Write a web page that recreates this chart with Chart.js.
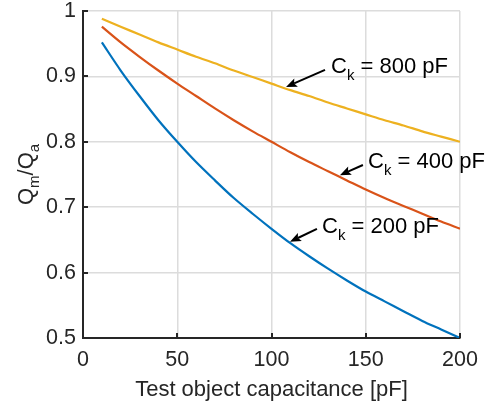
<!DOCTYPE html>
<html>
<head>
<meta charset="utf-8">
<script src="https://cdn.jsdelivr.net/npm/chart.js@4"></script>
<style>
html,body{margin:0;padding:0;background:#fff;}
canvas{display:block;}
</style>
</head>
<body>
<canvas id="c" width="491" height="405"></canvas>
<script>
// ---- data ----
const xValues = [10,20,30,40,50,60,70,80,90,100,110,120,130,140,150,160,170,180,190,200];
const ck200 = [0.952,0.909,0.870,0.833,0.800,0.769,0.741,0.714,0.690,0.667,0.645,0.625,0.606,0.588,0.571,0.556,0.541,0.526,0.513,0.500];
const ck400 = [0.976,0.952,0.930,0.909,0.889,0.870,0.851,0.833,0.816,0.800,0.784,0.769,0.755,0.741,0.727,0.714,0.702,0.690,0.678,0.667];
const ck800 = [0.988,0.976,0.964,0.952,0.941,0.930,0.920,0.909,0.899,0.889,0.879,0.870,0.860,0.851,0.842,0.833,0.825,0.816,0.808,0.800];
const seriesNames = ["C_k = 200 pF","C_k = 400 pF","C_k = 800 pF"];
const xTickLabels = ["0","50","100","150","200"];
const yTickLabels = ["0.5","0.6","0.7","0.8","0.9","1"];
const xTitle = "Test object capacitance [pF]";
// annotation anchors in data units: arrow tip, arrow tail, text start
const annTipX  = [109.8, 136.3, 107.7];
const annTipY  = [0.647, 0.749, 0.8838];
const annTailX = [124.1, 148.5, 128.4];
const annTailY = [0.667, 0.7645, 0.910];
const annTextX = [126.8, 151.2, 131.6];
const annTextY = [0.661, 0.760, 0.905];
const annMain = ["C","C","C"];
const annSub  = ["k","k","k"];
const annRest = [" = 200 pF"," = 400 pF"," = 800 pF"];

const colors = ["#0072BD","#D95319","#EDB120"];
const textColor = "#262626";
const FONT = "'Liberation Sans', Arial, Helvetica, sans-serif";

function pts(ys){ return xValues.map((x,i)=>({x:x,y:ys[i]})); }

const decor = {
  id:'decor',
  afterDraw(chart){
    const ctx = chart.ctx, xs = chart.scales.x, ys = chart.scales.y, a = chart.chartArea;
    ctx.save();
    // inward ticks
    ctx.strokeStyle = textColor; ctx.lineWidth = 2;
    ctx.beginPath();
    xs.ticks.forEach(t=>{ const p = Math.round(xs.getPixelForValue(t.value)); ctx.moveTo(p,a.bottom); ctx.lineTo(p,a.bottom-5); });
    ys.ticks.forEach(t=>{ const p = Math.round(ys.getPixelForValue(t.value)); ctx.moveTo(a.left,p); ctx.lineTo(a.left+5,p); });
    ctx.stroke();
    // x title
    ctx.fillStyle = textColor;
    ctx.font = "22px " + FONT;
    ctx.textAlign = "center"; ctx.textBaseline = "alphabetic";
    ctx.fillText(xTitle, (a.left+a.right)/2, 396);
    // y title Q_m/Q_a
    ctx.save();
    ctx.translate(33, (a.top+a.bottom)/2);
    ctx.rotate(-Math.PI/2);
    const big = "22px " + FONT, small = "15px " + FONT;
    const parts = [["Q",big,0],["m",small,6],["/Q",big,0],["a",small,6]];
    let w = 0; parts.forEach(p=>{ ctx.font=p[1]; w += ctx.measureText(p[0]).width; });
    let cx = -w/2; ctx.textAlign = "left";
    parts.forEach(p=>{ ctx.font=p[1]; ctx.fillText(p[0], cx, p[2]); cx += ctx.measureText(p[0]).width; });
    ctx.restore();
    // annotations
    for(let i=0;i<annTipX.length;i++){
      const tx = xs.getPixelForValue(annTipX[i]), ty = ys.getPixelForValue(annTipY[i]);
      const sx = xs.getPixelForValue(annTailX[i]), sy = ys.getPixelForValue(annTailY[i]);
      const ang = Math.atan2(ty-sy, tx-sx);
      const hl = 11, hw = 4.5;
      const bx = tx - Math.cos(ang)*hl*0.8, by = ty - Math.sin(ang)*hl*0.8;
      ctx.strokeStyle = "#000"; ctx.fillStyle = "#000"; ctx.lineWidth = 2;
      ctx.beginPath(); ctx.moveTo(sx,sy); ctx.lineTo(bx,by); ctx.stroke();
      ctx.beginPath();
      ctx.moveTo(tx,ty);
      ctx.lineTo(tx - Math.cos(ang)*hl - Math.sin(ang)*hw, ty - Math.sin(ang)*hl + Math.cos(ang)*hw);
      ctx.lineTo(bx, by);
      ctx.lineTo(tx - Math.cos(ang)*hl + Math.sin(ang)*hw, ty - Math.sin(ang)*hl - Math.cos(ang)*hw);
      ctx.closePath(); ctx.fill();
      // text
      let px = xs.getPixelForValue(annTextX[i]); const py = ys.getPixelForValue(annTextY[i]);
      ctx.fillStyle = "#000";
      ctx.textAlign = "left"; ctx.textBaseline = "alphabetic";
      ctx.font = big; ctx.fillText(annMain[i], px, py); px += ctx.measureText(annMain[i]).width;
      ctx.font = small; ctx.fillText(annSub[i], px, py+7); px += ctx.measureText(annSub[i]).width;
      ctx.font = big; ctx.fillText(annRest[i], px, py);
    }
    ctx.restore();
  }
};

new Chart(document.getElementById('c'), {
  type:'line',
  data:{
    datasets:[
      {label:seriesNames[0], data:pts(ck200), borderColor:colors[0], borderWidth:2.2, pointRadius:0, tension:0.3, fill:false},
      {label:seriesNames[1], data:pts(ck400), borderColor:colors[1], borderWidth:2.2, pointRadius:0, tension:0.3, fill:false},
      {label:seriesNames[2], data:pts(ck800), borderColor:colors[2], borderWidth:2.2, pointRadius:0, tension:0.3, fill:false}
    ]
  },
  options:{
    responsive:false, animation:false, devicePixelRatio:1,
    layout:{padding:{left:0,right:31,top:11,bottom:0}},
    plugins:{legend:{display:false}, tooltip:{enabled:false}},
    scales:{
      x:{type:'linear', min:0, max:200,
         afterFit(s){ s.height = 67; s.paddingLeft = 0; s.paddingRight = 0; },
         afterBuildTicks(s){ s.ticks = xTickLabels.map(v=>({value:Number(v)})); },
         ticks:{color:textColor, font:{size:21.5, family:FONT}, padding:9, maxRotation:0, callback:(v,i)=>xTickLabels[i]},
         grid:{color:'#dcdcdc', lineWidth:1.5, drawTicks:false},
         border:{color:textColor, width:2}
      },
      y:{type:'linear', min:0.5, max:1,
         afterFit(s){ s.width = 83; s.paddingTop = 0; s.paddingBottom = 0; },
         afterBuildTicks(s){ s.ticks = yTickLabels.map(v=>({value:Number(v)})); },
         ticks:{color:textColor, font:{size:21.5, family:FONT}, padding:7, callback:(v,i)=>yTickLabels[i]},
         grid:{color:'#dcdcdc', lineWidth:1.5, drawTicks:false},
         border:{color:textColor, width:2}
      }
    }
  },
  plugins:[decor]
});
</script>
</body>
</html>
